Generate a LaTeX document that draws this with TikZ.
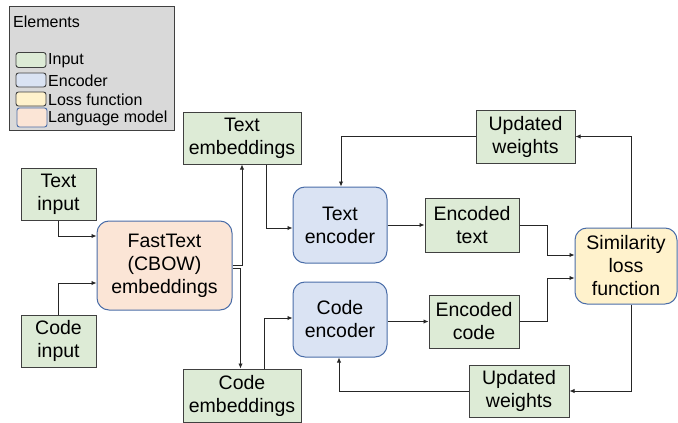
\documentclass[tikz,border=0pt]{standalone}
\usepackage{fontspec}
\setmainfont{Liberation Sans}
\usetikzlibrary{arrows.meta,calc}
\definecolor{ingreen}{HTML}{DDEBD6}
\definecolor{encblue}{HTML}{DAE3F3}
\definecolor{lossyel}{HTML}{FFF2CC}
\definecolor{lmpeach}{HTML}{FBE5D6}
\definecolor{bord}{HTML}{404040}
\definecolor{bblue}{HTML}{4A6DA8}
\definecolor{leggray}{HTML}{D9D9D9}
\tikzset{
  x=1pt, y=-1pt,
  every node/.style={font=\fontsize{19.5}{23}\selectfont, align=center, inner sep=0pt},
  inbox/.style={draw=bord, fill=ingreen, line width=1pt},
  encbox/.style={draw=bblue, fill=encblue, line width=1pt, rounded corners=12pt},
  lossbox/.style={draw=bblue, fill=lossyel, line width=1pt, rounded corners=12pt},
  lmbox/.style={draw=bblue, fill=lmpeach, line width=1pt, rounded corners=12pt},
  arr/.style={draw=black!85, line width=0.9pt, -{Latex[length=5pt,width=4.5pt]}},
  legtext/.style={font=\fontsize{16}{18}\selectfont, anchor=west},
  swatch/.style={line width=0.9pt, rounded corners=2.5pt}
}
\begin{document}
\begin{tikzpicture}
\useasboundingbox (0,0) rectangle (678,423);
% legend
\node[draw=bord, fill=leggray, line width=0.9pt, minimum width=165pt, minimum height=124pt] (legend) at (91.5,68) {};
\node[legtext] (legtitle) at (13,22) {Elements};
\node[swatch, draw=bord, fill=ingreen, minimum width=30pt, minimum height=15pt] (sw1) at (31,60) {};
\node[legtext] (lg1) at (48,60.5) {Input};
\node[swatch, draw=bord, fill=encblue, minimum width=30pt, minimum height=14pt] (sw2) at (31,80) {};
\node[legtext] (lg2) at (48,80.5) {Encoder};
\node[swatch, draw=bord, fill=lossyel, minimum width=30pt, minimum height=14pt] (sw3) at (31,99) {};
\node[legtext] (lg3) at (48,99.5) {Loss function};
\node[swatch, draw=bblue, fill=lmpeach, minimum width=30pt, minimum height=19pt] (sw4) at (32,117.5) {};
\node[legtext] (lg4) at (48,118) {Language model};
% nodes
\node[inbox, minimum width=118pt, minimum height=52pt] (temb) at (242,138) {Text\\embeddings};
\node[inbox, minimum width=75pt, minimum height=52pt] (tin) at (58.5,194) {Text\\input};
\node[lmbox, minimum width=135pt, minimum height=89pt] (ft) at (164.5,265.5) {FastText\\(CBOW)\\embeddings};
\node[inbox, minimum width=75pt, minimum height=52pt] (cin) at (58.5,341) {Code\\input};
\node[inbox, minimum width=118pt, minimum height=53pt] (cemb) at (242,395.5) {Code\\embeddings};
\node[encbox, minimum width=94pt, minimum height=76pt] (tenc) at (340,225) {Text\\encoder};
\node[encbox, minimum width=94pt, minimum height=75pt] (cenc) at (340,319.5) {Code\\encoder};
\node[inbox, minimum width=99pt, minimum height=53pt] (uwt) at (525.5,136.5) {Updated\\weights};
\node[inbox, minimum width=94pt, minimum height=54pt] (etext) at (472,225) {Encoded\\text};
\node[inbox, minimum width=90pt, minimum height=53pt] (ecode) at (474,321.5) {Encoded\\code};
\node[lossbox, minimum width=102pt, minimum height=76pt] (sim) at (626,266) {Similarity\\loss\\function};
\node[inbox, minimum width=100pt, minimum height=52pt] (uwb) at (519,391) {Updated\\weights};
% connectors
\draw[arr] (tin.south) |- ($(ft.west)+(0,-29.5)$);
\draw[arr] (cin.north) |- ($(ft.west)+(0,17.5)$);
\draw[arr] ($(ft.east)+(0,-0.5)$) -| (temb.south);
\draw[arr] ($(ft.east)+(0,2.5)$) -| ($(cemb.north)+(-1.5,0)$);
\draw[arr] ($(temb.south)+(24,0)$) |- ($(tenc.west)+(0,3)$);
\draw[arr] ($(cemb.north)+(22,0)$) |- ($(cenc.west)+(0,-1.5)$);
\draw[arr] (tenc.east) -- (etext.west);
\draw[arr] ($(cenc.east)+(0,2)$) -- (ecode.west);
\draw[arr] (etext.east) -- ++(28,0) |- ($(sim.west)+(0,-11)$);
\draw[arr] (ecode.east) -- ++(28,0) |- ($(sim.west)+(0,12)$);
\draw[arr] ($(sim.north)+(5,0)$) |- (uwt.east);
\draw[arr] (uwt.west) -| ($(tenc.north)+(1,0)$);
\draw[arr] ($(sim.south)+(5,0)$) |- (uwb.east);
\draw[arr] (uwb.west) -| ($(cenc.south)+(-1,0)$);
\end{tikzpicture}
\end{document}
